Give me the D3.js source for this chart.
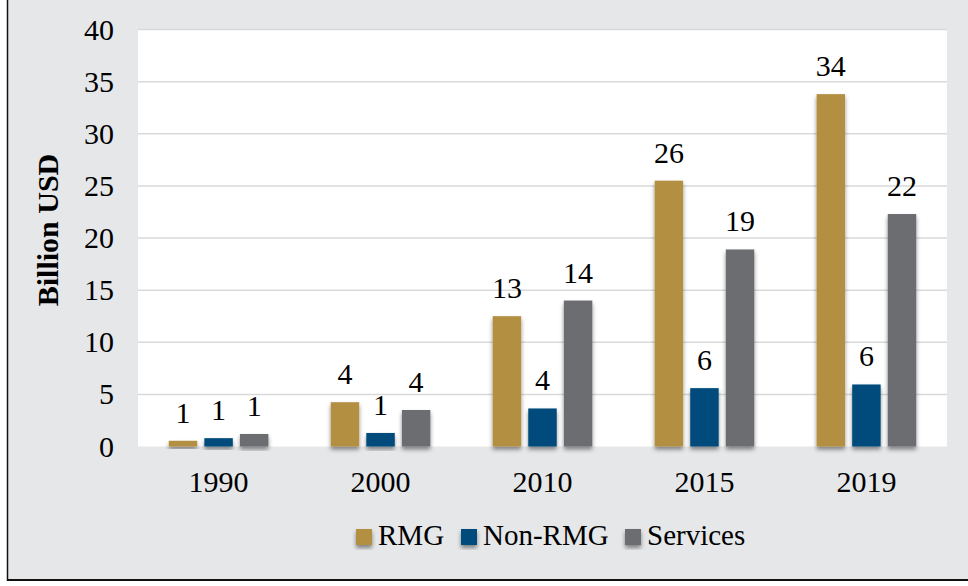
<!DOCTYPE html>
<html>
<head>
<meta charset="utf-8">
<script src="https://cdn.jsdelivr.net/npm/d3@7"></script>
<style>
  body { margin: 0; background: #fff; }
  text { font-family: "Liberation Serif", "Times New Roman", serif; fill: #000; }
</style>
</head>
<body>
<script>
// chart data
var years = ["1990", "2000", "2010", "2015", "2019"];
var seriesNames = ["RMG", "Non-RMG", "Services"];
var rmg = [0.55, 4.25, 12.5, 25.5, 33.8];
var nonRmg = [0.8, 1.3, 3.65, 5.6, 5.95];
var services = [1.2, 3.5, 14.0, 18.9, 22.3];
var yTicks = [0, 5, 10, 15, 20, 25, 30, 35, 40];
var colors = ["#b38f43", "#004b7b", "#6c6d71"];

var W = 968, H = 586;
var fontSize = "30px";
var svg = d3.select("body").append("svg")
    .attr("width", W)
    .attr("height", H);

// drop shadow like the original
var defs = svg.append("defs");
var f = defs.append("filter").attr("id", "shadow")
    .attr("x", "-30%").attr("y", "-30%").attr("width", "160%").attr("height", "160%");
f.append("feDropShadow")
    .attr("dx", 0).attr("dy", 3)
    .attr("stdDeviation", 2)
    .attr("flood-color", "#000")
    .attr("flood-opacity", 0.45);

// outer frame
svg.append("rect")
    .attr("x", 8).attr("y", 0)
    .attr("width", W - 8).attr("height", 580)
    .attr("fill", "#e6e7e9");
svg.append("line")
    .attr("x1", 7.5).attr("x2", 7.5).attr("y1", 0).attr("y2", 581)
    .attr("stroke", "#111").attr("stroke-width", 1.5);
svg.append("line")
    .attr("x1", 7).attr("x2", W).attr("y1", 580).attr("y2", 580)
    .attr("stroke", "#111").attr("stroke-width", 2);

var plotL = 138, plotR = 947, plotT = 29.5, plotB = 446.5;

svg.append("rect")
    .attr("x", plotL).attr("y", plotT)
    .attr("width", plotR - plotL).attr("height", plotB - plotT)
    .attr("fill", "#fff");

var x0 = d3.scaleBand().domain(years).range([plotL, plotR]).paddingInner(0.385).paddingOuter(0.19);
var x1 = d3.scaleBand().domain(seriesNames).range([0, x0.bandwidth()]).paddingInner(0.2).paddingOuter(0);
var y = d3.scaleLinear().domain([0, 40]).range([plotB, plotT]);

// gridlines
svg.append("g").selectAll("line")
    .data(yTicks.filter(function(d) { return d > 0; }))
    .enter().append("line")
    .attr("x1", plotL).attr("x2", plotR)
    .attr("y1", function(d) { return y(d); })
    .attr("y2", function(d) { return y(d); })
    .attr("stroke", "#d9d9d9")
    .attr("stroke-width", 1.5);

// y axis labels
var yAxis = d3.axisLeft(y).tickValues(yTicks).tickSize(0).tickPadding(24);
var gy = svg.append("g").attr("transform", "translate(" + plotL + ",0)").call(yAxis);
gy.select(".domain").remove();
gy.selectAll("text")
    .style("font-family", '"Liberation Serif", serif')
    .style("font-size", fontSize)
    .attr("fill", "#000");

// x axis labels
var xAxis = d3.axisBottom(x0).tickSize(0).tickPadding(24);
var gx = svg.append("g").attr("transform", "translate(0," + plotB + ")").call(xAxis);
gx.select(".domain").remove();
gx.selectAll("text")
    .style("font-family", '"Liberation Serif", serif')
    .style("font-size", fontSize)
    .attr("fill", "#000");

// y axis title
svg.append("text")
    .attr("transform", "translate(58,230) rotate(-90)")
    .attr("text-anchor", "middle")
    .style("font-size", fontSize)
    .style("font-weight", "bold")
    .text("Billion USD");

// bars
var seriesData = [rmg, nonRmg, services];
var rows = years.map(function(yr, i) {
    return seriesNames.map(function(s, k) {
        return { year: yr, name: s, value: seriesData[k][i], color: colors[k] };
    });
});

var groups = svg.selectAll(".grp")
    .data(rows)
    .enter().append("g")
    .attr("class", "grp")
    .attr("transform", function(d, i) { return "translate(" + x0(years[i]) + ",0)"; });

groups.selectAll("rect")
    .data(function(d) { return d; })
    .enter().append("rect")
    .attr("x", function(d) { return x1(d.name); })
    .attr("width", x1.bandwidth())
    .attr("y", function(d) { return y(d.value); })
    .attr("height", function(d) { return plotB - y(d.value); })
    .attr("fill", function(d) { return d.color; })
    .attr("filter", "url(#shadow)");

groups.selectAll("text")
    .data(function(d) { return d; })
    .enter().append("text")
    .attr("x", function(d) { return x1(d.name) + x1.bandwidth() / 2; })
    .attr("y", function(d) { return y(d.value) - 18; })
    .attr("text-anchor", "middle")
    .style("font-size", fontSize)
    .text(function(d) { return Math.round(d.value); });

// legend
var legendX = [356, 461, 625];
var legend = svg.append("g");
seriesNames.forEach(function(s, k) {
    legend.append("rect")
        .attr("x", legendX[k]).attr("y", 529)
        .attr("width", 16).attr("height", 16)
        .attr("fill", colors[k])
        .attr("filter", "url(#shadow)");
    legend.append("text")
        .attr("x", legendX[k] + 22).attr("y", 545)
        .style("font-size", "29px")
        .text(s);
});
</script>
</body>
</html>
